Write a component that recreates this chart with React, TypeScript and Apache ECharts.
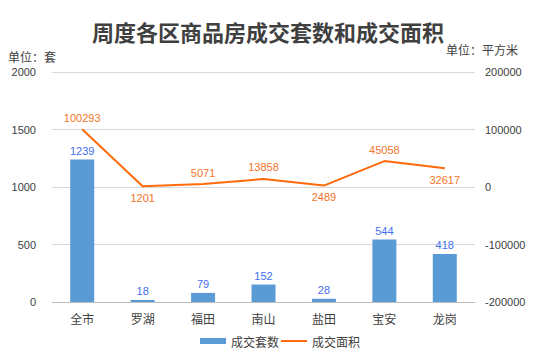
import React, { useEffect, useRef } from "react";
import * as echarts from "echarts";

const categories = ["全市", "罗湖", "福田", "南山", "盐田", "宝安", "龙岗"];
const dealCounts = [1239, 18, 79, 152, 28, 544, 418];
const dealAreas = [100293, 1201, 5071, 13858, 2489, 45058, 32617];
const areaLabelPositions = ["top", "bottom", "top", "top", "bottom", "top", "bottom"];

export default function App() {
  const ref = useRef<HTMLDivElement>(null);
  useEffect(() => {
    const chart = echarts.init(ref.current!, null, { renderer: "svg" });
    const axisFont = { fontFamily: "Liberation Sans, Arial, sans-serif", fontSize: 11, color: "#404040" };
    chart.setOption({
      animation: false,
      backgroundColor: "#ffffff",
      title: {
        text: "周度各区商品房成交套数和成交面积",
        left: "center",
        top: 15,
        textStyle: { fontFamily: "Noto Sans CJK SC", fontSize: 22, fontWeight: "bold", color: "#404040" },
      },
      graphic: [
        { type: "text", left: 8, top: 50, style: { text: "单位：套", fontFamily: "Noto Sans CJK SC", fontSize: 12, fill: "#404040" } },
        { type: "text", left: 446, top: 43, style: { text: "单位：平方米", fontFamily: "Noto Sans CJK SC", fontSize: 12, fill: "#404040" } },
      ],
      legend: {
        left: 195,
        top: 330,
        itemWidth: 26,
        itemHeight: 6,
        itemGap: 2,
        textStyle: { fontFamily: "Noto Sans CJK SC", fontSize: 12, color: "#404040" },
        data: [
          { name: "成交套数", icon: "rect" },
          { name: "成交面积", icon: "path://M0,0L26,0L26,2L0,2Z", itemStyle: { color: "#ff6a0a" } },
        ],
      },
      grid: { left: 52, right: 61, top: 72, bottom: 52 },
      xAxis: {
        type: "category",
        data: categories,
        axisLine: { lineStyle: { color: "#bfbfbf" } },
        axisTick: { show: false },
        axisLabel: { fontFamily: "Noto Sans CJK SC", fontSize: 12, color: "#404040", margin: 10 },
      },
      yAxis: [
        {
          type: "value",
          min: 0,
          max: 2000,
          interval: 500,
          axisLine: { show: false },
          axisTick: { show: false },
          axisLabel: { ...axisFont, margin: 16, formatter: (v: number) => String(v) },
          splitLine: { lineStyle: { color: "#d9d9d9" } },
        },
        {
          type: "value",
          min: -200000,
          max: 200000,
          interval: 100000,
          axisLine: { show: false },
          axisTick: { show: false },
          axisLabel: { ...axisFont, margin: 10, formatter: (v: number) => String(v) },
          splitLine: { show: false },
        },
      ],
      series: [
        {
          name: "成交套数",
          type: "bar",
          data: dealCounts,
          barWidth: 24,
          itemStyle: { color: "#5b9bd5" },
          label: { show: true, position: "top", distance: 3, color: "#3f6ff0", fontFamily: "Liberation Sans, Arial, sans-serif", fontSize: 11 },
        },
        {
          name: "成交面积",
          type: "line",
          yAxisIndex: 1,
          symbol: "circle",
          symbolSize: 0.1,
          showSymbol: true,
          data: dealAreas.map((v, i) => ({
            value: v,
            label: { position: areaLabelPositions[i] },
          })),
          lineStyle: { color: "#ff6a0a", width: 2 },
          itemStyle: { color: "#ff6a0a" },
          label: { show: true, distance: 6, color: "#f5742a", fontFamily: "Liberation Sans, Arial, sans-serif", fontSize: 11 },
        },
      ],
    });
    return () => chart.dispose();
  }, []);
  return <div ref={ref} style={{ width: 536, height: 354, position: "absolute", left: 0, top: 0 }} />;
}
